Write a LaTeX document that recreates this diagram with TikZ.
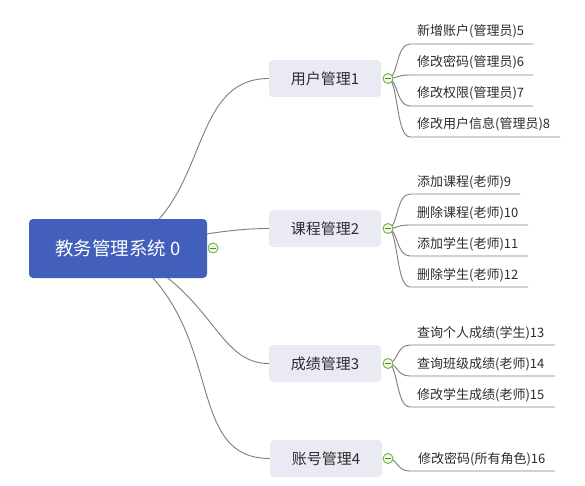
\documentclass[tikz,border=0pt]{standalone}
\usepackage{fontspec}
\setmainfont{Noto Sans CJK SC}
\usetikzlibrary{backgrounds}
\definecolor{rootblue}{RGB}{66,96,187}
\definecolor{topicfill}{RGB}{233,234,243}
\definecolor{txt}{RGB}{45,45,45}
\definecolor{linegray}{RGB}{125,125,125}
\definecolor{foldgreen}{RGB}{110,180,60}
\definecolor{foldfill}{RGB}{240,248,232}
\tikzset{
  rootbox/.style={rectangle, rounded corners=4pt, fill=rootblue, text=white,
    minimum width=178pt, minimum height=59pt, inner sep=0pt, font=\fontsize{18.5}{20}\selectfont},
  topicbox/.style={rectangle, rounded corners=4pt, fill=topicfill, text=txt,
    minimum width=112pt, minimum height=37pt, inner sep=0pt, font=\fontsize{15}{17}\selectfont},
  leaftext/.style={anchor=base west, inner sep=0pt, text=txt, font=\fontsize{13}{15}\selectfont},
  conn/.style={draw=linegray, line width=0.9pt},
  fold/.style={circle, draw=foldgreen, fill=foldfill, line width=0.9pt, minimum size=10pt, inner sep=0pt,
    path picture={\draw[foldgreen!75!black, line width=1pt]
      ([xshift=-3pt]path picture bounding box.center) -- ([xshift=3pt]path picture bounding box.center);}},
}
\begin{document}
\begin{tikzpicture}[x=1pt,y=-1pt]
\useasboundingbox (0,0) rectangle (585,486);

% root and topics
\node[rootbox] (root) at (118,248.5) {教务管理系统 0};
\node[fold] (f0) at (213,248) {};
\node[topicbox] (g1) at (325,78.5) {用户管理1};
\node[topicbox] (g2) at (325,228.5) {课程管理2};
\node[topicbox] (g3) at (325,363.5) {成绩管理3};
\node[topicbox] (g4) at (326,458.5) {账号管理4};
\node[fold] (f1) at (388,78.5) {};
\node[fold] (f2) at (388,228.5) {};
\node[fold] (f3) at (388,363.5) {};
\node[fold] (f4) at (388,458.5) {};

% leaves
\node[leaftext] (l5)  at (417,36)  {新增账户(管理员)5};
\node[leaftext] (l6)  at (417,67)  {修改密码(管理员)6};
\node[leaftext] (l7)  at (417,98)  {修改权限(管理员)7};
\node[leaftext] (l8)  at (417,129) {修改用户信息(管理员)8};
\node[leaftext] (l9)  at (417,186) {添加课程(老师)9};
\node[leaftext] (l10) at (417,217) {删除课程(老师)10};
\node[leaftext] (l11) at (417,248) {添加学生(老师)11};
\node[leaftext] (l12) at (417,279) {删除学生(老师)12};
\node[leaftext] (l13) at (417,337) {查询个人成绩(学生)13};
\node[leaftext] (l14) at (417,368) {查询班级成绩(老师)14};
\node[leaftext] (l15) at (417,399) {修改学生成绩(老师)15};
\node[leaftext] (l16) at (418,463) {修改密码(所有角色)16};

% underline endpoints
\coordinate (s5) at (410,44);   \coordinate (e5) at (533,44);
\coordinate (s6) at (410,75);   \coordinate (e6) at (533,75);
\coordinate (s7) at (410,106);  \coordinate (e7) at (533,106);
\coordinate (s8) at (410,137);  \coordinate (e8) at (560,137);
\coordinate (s9) at (410,194);  \coordinate (e9) at (520,194);
\coordinate (s10) at (410,225); \coordinate (e10) at (528,225);
\coordinate (s11) at (410,256); \coordinate (e11) at (528,256);
\coordinate (s12) at (410,287); \coordinate (e12) at (528,287);
\coordinate (s13) at (410,345); \coordinate (e13) at (555,345);
\coordinate (s14) at (410,376); \coordinate (e14) at (555,376);
\coordinate (s15) at (410,407); \coordinate (e15) at (555,407);
\coordinate (s16) at (410,471); \coordinate (e16) at (555,471);

\begin{pgfonlayer}{background}
\fill[white] (0,0) rectangle (585,486);
\draw[conn] (root.center) .. controls (212,210) and (185,78.5) .. (g1.west);
\draw[conn] (root.center) .. controls (180,240) and (220,228.5) .. (g2.west);
\draw[conn] (root.center) .. controls (215,290) and (215,363.5) .. (g3.west);
\draw[conn] (root.center) .. controls (230,320) and (180,458.5) .. (g4.west);
\foreach \f/\n in {f1/5,f1/6,f1/7,f1/8,f2/9,f2/10,f2/11,f2/12,f3/13,f3/14,f3/15,f4/16}{
  \draw[conn] (\f.center) .. controls +(10,0) and +(-14,0) .. (s\n) -- (e\n);
}
\end{pgfonlayer}
\end{tikzpicture}
\end{document}
